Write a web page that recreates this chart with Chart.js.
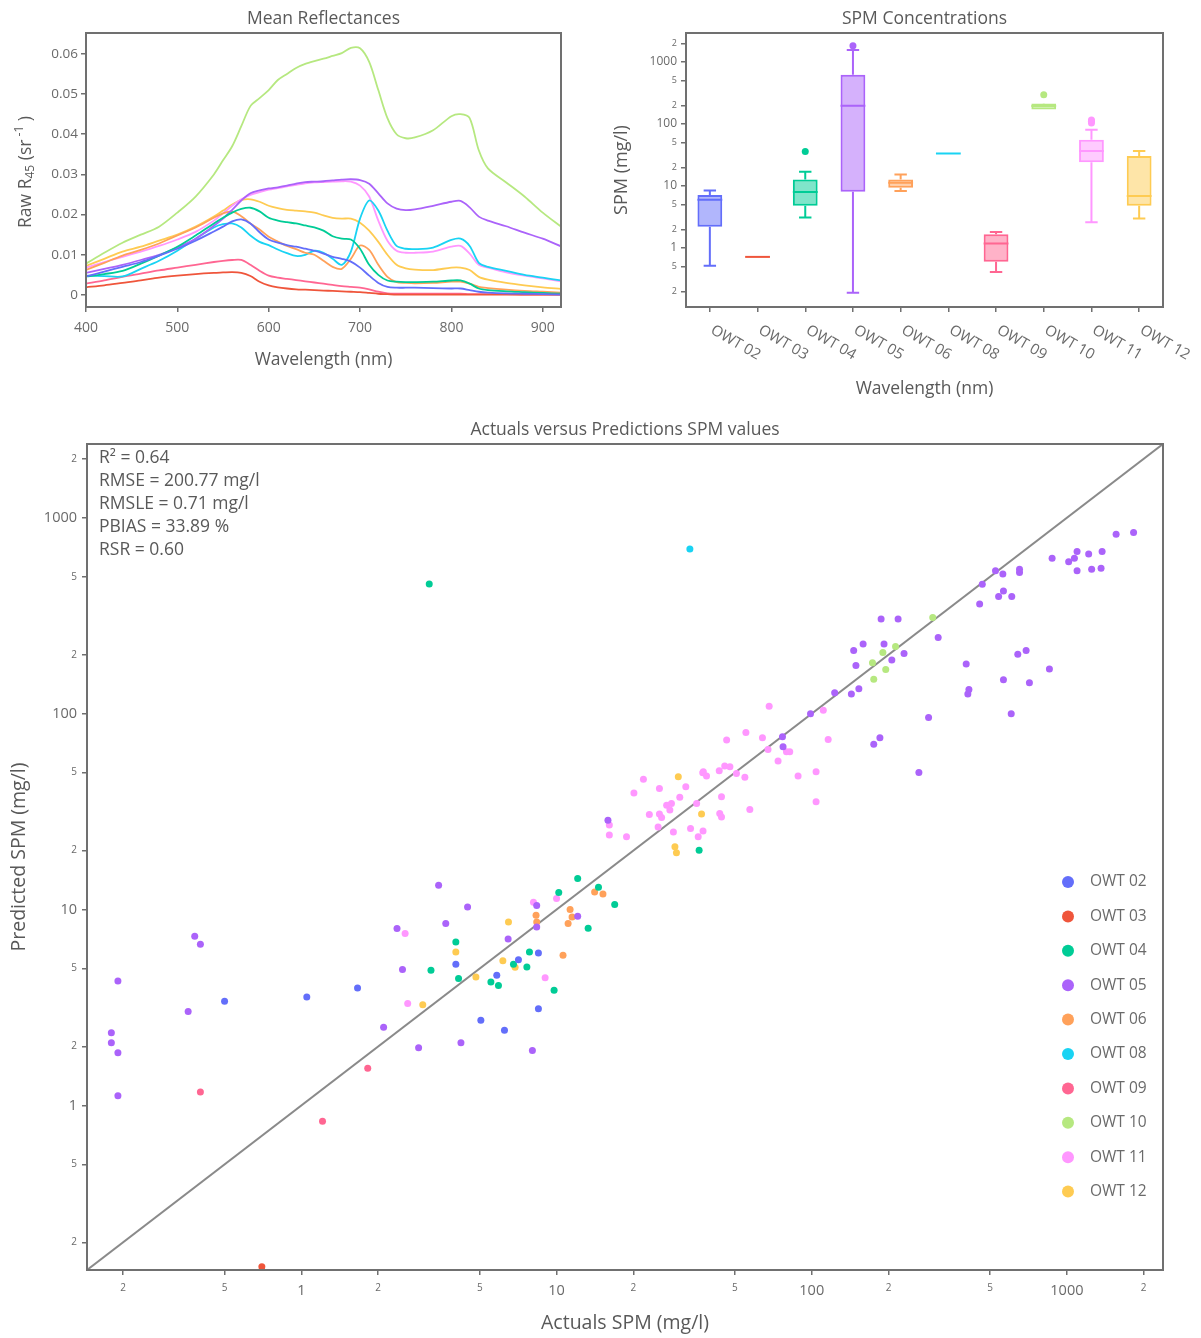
<!DOCTYPE html>
<html>
<head>
<meta charset="utf-8">
<title>OWT reflectance, SPM and prediction accuracy</title>
<script src="https://cdn.jsdelivr.net/npm/chart.js"></script>
<style>
  html, body { margin: 0; padding: 0; background: #fff; }
  #page { position: relative; width: 1201px; height: 1338px; overflow: hidden; }
  canvas { position: absolute; display: block; }
</style>
</head>
<body>
<div id="page">
  <canvas id="refl" width="600" height="410" style="left:0;top:0"></canvas>
  <canvas id="spm" width="601" height="410" style="left:600px;top:0"></canvas>
  <canvas id="pred" width="1201" height="928" style="left:0;top:410px"></canvas>
</div>
<script>
// ---------- shared categories and colours ----------
const owtLabels = ['OWT 02', 'OWT 03', 'OWT 04', 'OWT 05', 'OWT 06', 'OWT 08', 'OWT 09', 'OWT 10', 'OWT 11', 'OWT 12'];
const owtColors = ['#636EFA', '#EF553B', '#00CC96', '#AB63FA', '#FFA15A', '#19D3F3', '#FF6692', '#B6E880', '#FF97FF', '#FECB52'];

// ---------- mean reflectance spectra (sr^-1) ----------
const wavelengths = [400, 420, 440, 460, 480, 500, 520, 540, 550, 560, 570, 580, 590, 600, 610, 620, 630, 640, 650, 660,
                     670, 680, 690, 700, 710, 720, 730, 740, 750, 760, 780, 800, 810, 820, 830, 840, 860, 880, 900, 920];
const reflOwt02 = [0.0046, 0.0058, 0.0070, 0.0082, 0.0098, 0.0115, 0.0135, 0.0158, 0.0170, 0.0183, 0.0188, 0.0178, 0.0156, 0.0138, 0.0130, 0.0124, 0.0120, 0.0115, 0.0110, 0.0103,
                   0.0095, 0.0090, 0.0083, 0.0068, 0.0048, 0.0030, 0.0020, 0.0018, 0.0018, 0.0018, 0.0017, 0.0016, 0.0016, 0.0012, 0.0008, 0.0006, 0.0004, 0.0003, 0.0002, 0.0001];
const reflOwt03 = [0.0019, 0.0024, 0.0030, 0.0036, 0.0043, 0.0048, 0.0052, 0.0055, 0.0056, 0.0057, 0.0055, 0.0047, 0.0033, 0.0024, 0.0019, 0.0016, 0.0014, 0.0013, 0.0012, 0.0011,
                   0.0010, 0.0009, 0.0008, 0.0007, 0.0005, 0.0003, 0.0002, 0.0001, 0.0001, 0.0001, 0.0001, 0.0001, 0.0001, 0.0001, 0.0001, 0.0001, 0.0001, 0.0001, 0.0001, 0.0001];
const reflOwt04 = [0.0046, 0.0052, 0.0060, 0.0078, 0.0098, 0.0120, 0.0148, 0.0178, 0.0192, 0.0205, 0.0214, 0.0217, 0.0208, 0.0192, 0.0185, 0.0181, 0.0178, 0.0173, 0.0168, 0.0160,
                   0.0146, 0.0140, 0.0138, 0.0115, 0.0075, 0.0050, 0.0036, 0.0033, 0.0032, 0.0032, 0.0033, 0.0036, 0.0036, 0.0028, 0.0016, 0.0012, 0.0009, 0.0007, 0.0005, 0.0003];
const reflOwt05 = [0.0055, 0.0065, 0.0075, 0.0087, 0.0100, 0.0118, 0.0140, 0.0172, 0.0190, 0.0212, 0.0235, 0.0253, 0.0260, 0.0265, 0.0268, 0.0272, 0.0277, 0.0281, 0.0282, 0.0283,
                   0.0285, 0.0287, 0.0288, 0.0286, 0.0277, 0.0253, 0.0228, 0.0215, 0.0211, 0.0213, 0.0222, 0.0232, 0.0234, 0.0218, 0.0195, 0.0185, 0.0171, 0.0155, 0.0140, 0.0121];
const reflOwt06 = [0.0062, 0.0080, 0.0098, 0.0112, 0.0128, 0.0148, 0.0168, 0.0192, 0.0203, 0.0208, 0.0196, 0.0178, 0.0163, 0.0145, 0.0133, 0.0122, 0.0114, 0.0105, 0.0100, 0.0085,
                   0.0070, 0.0065, 0.0090, 0.0123, 0.0112, 0.0075, 0.0045, 0.0032, 0.0030, 0.0029, 0.0030, 0.0033, 0.0033, 0.0028, 0.0020, 0.0017, 0.0013, 0.0010, 0.0008, 0.0006];
const reflOwt08 = [0.0048, 0.0047, 0.0046, 0.0065, 0.0085, 0.0110, 0.0140, 0.0168, 0.0176, 0.0178, 0.0168, 0.0148, 0.0132, 0.0124, 0.0113, 0.0104, 0.0097, 0.0100, 0.0110, 0.0105,
                   0.0090, 0.0075, 0.0108, 0.0190, 0.0235, 0.0210, 0.0160, 0.0122, 0.0115, 0.0114, 0.0118, 0.0137, 0.0140, 0.0122, 0.0080, 0.0070, 0.0060, 0.0050, 0.0043, 0.0036];
const reflOwt09 = [0.0028, 0.0036, 0.0045, 0.0053, 0.0061, 0.0068, 0.0075, 0.0082, 0.0085, 0.0087, 0.0087, 0.0075, 0.0060, 0.0048, 0.0043, 0.0040, 0.0037, 0.0034, 0.0031, 0.0028,
                   0.0025, 0.0022, 0.0020, 0.0018, 0.0014, 0.0008, 0.0004, 0.0003, 0.0003, 0.0003, 0.0003, 0.0003, 0.0003, 0.0002, 0.0002, 0.0002, 0.0002, 0.0001, 0.0001, 0.0001];
const reflOwt10 = [0.0078, 0.0105, 0.0130, 0.0150, 0.0170, 0.0205, 0.0245, 0.0300, 0.0335, 0.0370, 0.0420, 0.0470, 0.0490, 0.0510, 0.0535, 0.0550, 0.0565, 0.0575, 0.0582, 0.0588,
                   0.0595, 0.0602, 0.0615, 0.0614, 0.0580, 0.0510, 0.0440, 0.0400, 0.0390, 0.0392, 0.0410, 0.0445, 0.0450, 0.0440, 0.0360, 0.0315, 0.0280, 0.0245, 0.0205, 0.0170];
const reflOwt11 = [0.0068, 0.0082, 0.0095, 0.0108, 0.0122, 0.0138, 0.0157, 0.0185, 0.0203, 0.0222, 0.0238, 0.0249, 0.0256, 0.0262, 0.0266, 0.0270, 0.0274, 0.0278, 0.0280, 0.0281,
                   0.0282, 0.0283, 0.0282, 0.0272, 0.0245, 0.0185, 0.0135, 0.0110, 0.0105, 0.0105, 0.0108, 0.0120, 0.0122, 0.0103, 0.0075, 0.0068, 0.0056, 0.0048, 0.0041, 0.0034];
const reflOwt12 = [0.0072, 0.0090, 0.0108, 0.0120, 0.0135, 0.0150, 0.0170, 0.0195, 0.0210, 0.0225, 0.0236, 0.0238, 0.0232, 0.0222, 0.0216, 0.0212, 0.0210, 0.0208, 0.0205, 0.0198,
                   0.0192, 0.0190, 0.0190, 0.0180, 0.0160, 0.0132, 0.0100, 0.0075, 0.0066, 0.0063, 0.0062, 0.0068, 0.0068, 0.0062, 0.0045, 0.0038, 0.0030, 0.0024, 0.0019, 0.0015];
const reflSeries = [reflOwt02, reflOwt03, reflOwt04, reflOwt05, reflOwt06, reflOwt08, reflOwt09, reflOwt10, reflOwt11, reflOwt12];
const wlTicks = [400, 500, 600, 700, 800, 900];
const reflTicks = [0, 0.01, 0.02, 0.03, 0.04, 0.05, 0.06];

// ---------- SPM box statistics (mg/l) ----------
const boxLow  = [0.52, 0.72, 3.1, 0.19, 8.3, 33.5, 0.41, 171, 2.6, 3.0];
const boxQ1   = [2.2, 0.72, 4.8, 8.1, 9.4, 33.5, 0.60, 172, 24.3, 4.8];
const boxMed  = [6.0, 0.72, 8.0, 198, 11.3, 33.5, 1.18, 195, 36.6, 6.9];
const boxQ3   = [7.2, 0.72, 12.8, 625, 12.8, 33.5, 1.67, 214, 56, 30.4];
const boxHigh = [8.5, 0.72, 17, 1560, 15.4, 33.5, 1.82, 216, 81, 36.6];
const boxOutliers = [[], [], [36], [1825], [], [], [], [296], [104, 111, 116], []];

// ---------- log axis ticks ----------
const logTickValues = [0.2, 0.5, 1, 2, 5, 10, 20, 50, 100, 200, 500, 1000, 2000];
const logTickLabels = ['2', '5', '1', '2', '5', '10', '2', '5', '100', '2', '5', '1000', '2'];
const logMajor = [1, 10, 100, 1000];

// ---------- actual vs predicted SPM, [actual, predicted] in mg/l ----------
const predOwt02 = [[0.50, 3.40], [1.05, 3.58], [1.66, 3.98], [4.03, 5.25], [5.05, 2.72], [5.83, 4.62], [6.25, 2.42], [7.09, 5.55], [8.49, 6.00], [8.49, 3.12]];
const predOwt03 = [[0.70, 0.150]];
const predOwt04 = [[3.17, 459], [4.03, 6.83], [3.22, 4.90], [4.13, 4.44], [5.53, 4.27], [5.92, 4.10], [6.78, 5.25], [7.65, 5.09], [7.83, 6.07], [9.78, 3.87],
                   [10.2, 12.2], [12.1, 14.4], [14.6, 13.0], [13.3, 8.03], [16.9, 10.6], [36.2, 20.1]];
const predOwt05 = [[0.191, 4.32], [0.180, 2.35], [0.180, 2.09], [0.191, 1.86], [0.191, 1.12], [0.382, 7.31], [0.402, 6.65], [0.360, 3.02], [2.10, 2.51], [2.37, 8.0],
                   [2.49, 4.94], [2.88, 1.97], [3.45, 13.3], [3.68, 8.48], [4.22, 2.09], [4.48, 10.3], [6.46, 7.08], [8.04, 1.91], [8.36, 10.5], [8.36, 8.15],
                   [12.1, 9.24], [15.9, 28.6], [77.2, 67.8], [76.8, 76.2], [98.9, 100], [123, 128], [143, 126], [153, 134], [146, 210], [149, 176],
                   [159, 227], [192, 227], [187, 304], [218, 304], [230, 203], [206, 188], [313, 245], [185, 75.3], [175, 69.7], [287, 95.7],
                   [263, 50.1], [403, 179], [413, 133], [409, 126], [455, 363], [466, 458], [525, 537], [561, 517], [564, 423], [540, 396],
                   [608, 396], [652, 546], [652, 525], [564, 149], [605, 100], [642, 201], [692, 210], [713, 144], [854, 169], [875, 622],
                   [1016, 597], [1070, 622], [1096, 672], [1217, 654], [1374, 672], [1096, 537], [1250, 546], [1361, 553], [1559, 824], [1825, 840]];
const predOwt06 = [[8.31, 9.35], [8.36, 8.64], [11.3, 10.0], [11.5, 9.17], [11.1, 8.48], [10.6, 5.84], [14.1, 12.3], [15.2, 12.0]];
const predOwt08 = [[33.3, 693]];
const predOwt09 = [[0.402, 1.17], [1.21, 0.831], [1.82, 1.55]];
const predOwt10 = [[298, 310], [213, 220], [190, 205], [173, 182], [195, 168], [175, 150]];
const predOwt11 = [[2.55, 7.54], [2.61, 3.31], [8.12, 10.9], [10.0, 11.4], [9.02, 4.49], [16.1, 27.0], [16.1, 24.0], [18.8, 23.5], [20.1, 39.3], [21.9, 46.2],
                   [25.3, 41.5], [32.1, 42.3], [23.1, 30.6], [25.3, 30.7], [25.8, 29.5], [27.0, 34.1], [28.2, 34.8], [30.4, 37.4], [27.8, 32.2], [25.0, 26.4],
                   [28.7, 24.9], [33.5, 25.9], [37.5, 25.2], [35.9, 23.5], [35.4, 34.8], [37.4, 49.9], [38.7, 48.0], [43.4, 51.1], [45.6, 54.0], [47.8, 53.5],
                   [50.7, 49.5], [54.7, 47.3], [44.3, 37.6], [43.6, 30.9], [44.3, 29.7], [57.2, 32.4], [46.4, 73.3], [55.2, 80.2], [64.1, 75.3], [68.1, 109],
                   [67.4, 65.7], [73.8, 57.3], [79.6, 63.9], [82.0, 63.9], [88.4, 48.0], [104, 50.5], [104, 35.5], [111, 104], [116, 73.9], [37.6, 50.5]];
const predOwt12 = [[4.03, 6.07], [4.83, 4.52], [6.16, 5.47], [6.48, 8.64], [6.88, 5.07], [2.99, 3.27], [30.0, 47.6], [37.0, 30.7], [29.1, 20.9], [29.5, 19.5]];
const predSeries = [predOwt02, predOwt03, predOwt04, predOwt05, predOwt06, predOwt08, predOwt09, predOwt10, predOwt11, predOwt12];
const predAxisMin = 0.1445;
const predAxisMax = 2380;
const statLines = ['R\u00b2 = 0.64', 'RMSE = 200.77 mg/l', 'RMSLE = 0.71 mg/l', 'PBIAS = 33.89 %', 'RSR = 0.60'];

// ---------- look ----------
const FONT = "'Open Sans', 'Noto Sans', sans-serif";
const TEXT = '#595959';
const TICKTEXT = '#6a6a6a';
const AXISLINE = '#707070';
Chart.defaults.font.family = FONT;
Chart.defaults.color = TEXT;

function alpha(hex, a) {
  const n = parseInt(hex.slice(1), 16);
  return `rgba(${(n >> 16) & 255}, ${(n >> 8) & 255}, ${n & 255}, ${a})`;
}
function fixedTicks(values) {
  return scale => { scale.ticks = values.map(v => ({ value: v })); };
}
const logLabel = v => { const i = logTickValues.indexOf(v); return i < 0 ? '' : logTickLabels[i]; };
const logFont = (big, small) => ctx => ({ family: FONT, size: (ctx.tick && logMajor.includes(ctx.tick.value)) ? big : small });

// frame around the plotting area (mirrored axis lines)
const framePlugin = {
  id: 'frame',
  afterDatasetsDraw(chart) {
    const { ctx, chartArea: a } = chart;
    ctx.save();
    ctx.strokeStyle = AXISLINE;
    ctx.lineWidth = 2;
    ctx.strokeRect(a.left, a.top, a.right - a.left, a.bottom - a.top);
    ctx.restore();
  }
};
// plot heading centred over the plotting area
function headingPlugin(text, y, size) {
  return {
    id: 'heading',
    afterDraw(chart) {
      const { ctx, chartArea: a } = chart;
      ctx.save();
      ctx.font = `${size}px ${FONT}`;
      ctx.fillStyle = TEXT;
      ctx.textAlign = 'center';
      ctx.textBaseline = 'middle';
      ctx.fillText(text, (a.left + a.right) / 2, y);
      ctx.restore();
    }
  };
}
const gridOpts = { drawOnChartArea: false, drawTicks: true, tickLength: 5, color: AXISLINE, lineWidth: 1.5 };

// ---------- chart 1: mean reflectances ----------
const reflYTitle = {
  id: 'reflYTitle',
  afterDraw(chart) {
    const { ctx, chartArea: a } = chart;
    const big = `17.5px ${FONT}`, small = `12px ${FONT}`;
    const parts = [['Raw R', big, 0], ['45', small, 5], [' (sr', big, 0], [' -1', small, -6], [' )', big, 0]];
    ctx.save();
    ctx.translate(26, (a.top + a.bottom) / 2 + 2);
    ctx.rotate(-Math.PI / 2);
    ctx.fillStyle = TEXT;
    ctx.textBaseline = 'middle';
    ctx.textAlign = 'left';
    let total = 0;
    parts.forEach(p => { ctx.font = p[1]; total += ctx.measureText(p[0]).width; });
    let x = -total / 2;
    parts.forEach(p => { ctx.font = p[1]; ctx.fillText(p[0], x, p[2]); x += ctx.measureText(p[0]).width; });
    ctx.restore();
  }
};

new Chart(document.getElementById('refl'), {
  type: 'line',
  data: {
    datasets: reflSeries.map((s, i) => ({
      label: owtLabels[i],
      data: s.map((v, k) => ({ x: wavelengths[k], y: v })),
      borderColor: owtColors[i],
      backgroundColor: owtColors[i],
      borderWidth: 1.8,
      pointRadius: 0,
      tension: 0.3,
      fill: false
    }))
  },
  options: {
    responsive: false,
    animation: false,
    layout: { padding: { left: 8, top: 33, right: 39, bottom: 10 } },
    plugins: { legend: { display: false }, tooltip: { enabled: false } },
    scales: {
      x: {
        type: 'linear', min: 400, max: 920,
        afterBuildTicks: fixedTicks(wlTicks),
        afterFit: s => { s.height = 93; },
        grid: gridOpts, border: { display: false },
        ticks: { padding: 8, color: TICKTEXT, font: { size: 14 }, maxRotation: 0, autoSkip: false, callback: v => String(v) },
        title: { display: true, text: 'Wavelength (nm)', color: TEXT, font: { size: 17.5 }, padding: { top: 0, bottom: 29.5 } }
      },
      y: {
        type: 'linear', min: -0.003, max: 0.0652,
        afterBuildTicks: fixedTicks(reflTicks),
        afterFit: s => { s.width = 78; },
        grid: gridOpts, border: { display: false },
        ticks: { padding: 3, color: TICKTEXT, font: { size: 13.5 }, autoSkip: false, callback: v => (v === 0 ? '0' : v.toFixed(2)) }
      }
    }
  },
  plugins: [framePlugin, headingPlugin('Mean Reflectances', 19, 17.5), reflYTitle]
});

// ---------- chart 2: SPM concentrations per OWT ----------
const boxPlugin = {
  id: 'boxWhiskers',
  afterDatasetsDraw(chart) {
    const { ctx } = chart;
    const xs = chart.scales.x, ys = chart.scales.y;
    const bars = chart.getDatasetMeta(0).data;
    ctx.save();
    ctx.lineWidth = 2;
    owtLabels.forEach((lab, i) => {
      const cx = xs.getPixelForValue(i);
      const hw = bars[i].width / 2;
      const yl = ys.getPixelForValue(boxLow[i]);
      const y1 = ys.getPixelForValue(boxQ1[i]);
      const ym = ys.getPixelForValue(boxMed[i]);
      const y3 = ys.getPixelForValue(boxQ3[i]);
      const yh = ys.getPixelForValue(boxHigh[i]);
      ctx.strokeStyle = owtColors[i];
      ctx.beginPath();
      ctx.moveTo(cx, y1); ctx.lineTo(cx, yl);
      ctx.moveTo(cx, y3); ctx.lineTo(cx, yh);
      if (yl - y1 > 0.5) { ctx.moveTo(cx - hw / 2, yl); ctx.lineTo(cx + hw / 2, yl); }
      if (y3 - yh > 0.5) { ctx.moveTo(cx - hw / 2, yh); ctx.lineTo(cx + hw / 2, yh); }
      ctx.moveTo(cx - hw, ym); ctx.lineTo(cx + hw, ym);
      ctx.stroke();
    });
    ctx.restore();
  }
};
const boxXLabels = {
  id: 'boxXLabels',
  afterDraw(chart) {
    const { ctx, chartArea: a } = chart;
    const xs = chart.scales.x;
    ctx.save();
    ctx.font = `15px ${FONT}`;
    ctx.fillStyle = TICKTEXT;
    ctx.textAlign = 'left';
    ctx.textBaseline = 'middle';
    chart.data.labels.forEach((lab, i) => {
      ctx.save();
      ctx.translate(xs.getPixelForValue(i) + 2, a.bottom + 22);
      ctx.rotate(30 * Math.PI / 180);
      ctx.fillText(lab, 0, 0);
      ctx.restore();
    });
    ctx.restore();
  }
};
const outlierPoints = [];
const outlierColors = [];
boxOutliers.forEach((list, i) => list.forEach(v => { outlierPoints.push({ x: owtLabels[i], y: v }); outlierColors.push(owtColors[i]); }));

new Chart(document.getElementById('spm'), {
  type: 'bar',
  data: {
    labels: owtLabels,
    datasets: [
      {
        label: 'SPM',
        data: owtLabels.map((_, i) => [boxQ1[i], boxQ3[i]]),
        backgroundColor: owtColors.map(c => alpha(c, 0.5)),
        borderColor: owtColors,
        borderWidth: 2,
        borderSkipped: false,
        barPercentage: 0.52,
        categoryPercentage: 1
      },
      {
        type: 'scatter',
        label: 'outliers',
        data: outlierPoints,
        pointBackgroundColor: outlierColors,
        pointBorderColor: outlierColors,
        pointRadius: 3.5,
        pointBorderWidth: 0
      }
    ]
  },
  options: {
    responsive: false,
    animation: false,
    layout: { padding: { left: 4, top: 33, right: 38, bottom: 2 } },
    plugins: { legend: { display: false }, tooltip: { enabled: false } },
    scales: {
      x: {
        type: 'category', offset: true,
        afterFit: s => { s.height = 101; },
        grid: Object.assign({}, gridOpts, { offset: false }), border: { display: false },
        ticks: { display: false },
        title: { display: true, text: 'Wavelength (nm)', color: TEXT, font: { size: 17.5 }, padding: { top: 0, bottom: 8.5 } }
      },
      y: {
        type: 'logarithmic', min: 0.112, max: 2940,
        afterBuildTicks: fixedTicks(logTickValues),
        afterFit: s => { s.width = 82; },
        grid: gridOpts, border: { display: false },
        ticks: { padding: 4, color: TICKTEXT, font: logFont(12, 9), autoSkip: false, callback: logLabel },
        title: { display: true, text: 'SPM (mg/l)', color: TEXT, font: { size: 18 }, padding: { top: 7, bottom: 0 } }
      }
    }
  },
  plugins: [framePlugin, headingPlugin('SPM Concentrations', 19, 17.5), boxPlugin, boxXLabels]
});

// ---------- chart 3: actuals versus predictions ----------
const statsPlugin = {
  id: 'stats',
  afterDraw(chart) {
    const { ctx, chartArea: a } = chart;
    ctx.save();
    ctx.font = `17.5px ${FONT}`;
    ctx.fillStyle = TEXT;
    ctx.textAlign = 'left';
    ctx.textBaseline = 'middle';
    statLines.forEach((t, i) => ctx.fillText(t, a.left + 12, a.top + 14 + i * 23));
    ctx.restore();
  }
};
const legendPlugin = {
  id: 'owtLegend',
  afterDraw(chart) {
    const { ctx, chartArea: a } = chart;
    ctx.save();
    ctx.font = `15.5px ${FONT}`;
    ctx.textAlign = 'left';
    ctx.textBaseline = 'middle';
    chart.data.datasets.filter(d => d.inLegend).forEach((d, i) => {
      const y = a.top + 438 + i * 34.4;
      ctx.beginPath();
      ctx.arc(a.right - 95, y, 6, 0, Math.PI * 2);
      ctx.fillStyle = d.backgroundColor;
      ctx.fill();
      ctx.fillStyle = TICKTEXT;
      ctx.fillText(d.label, a.right - 73, y);
    });
    ctx.restore();
  }
};

const predDatasets = predSeries.map((s, i) => ({
  type: 'scatter',
  label: owtLabels[i],
  inLegend: true,
  data: s.map(p => ({ x: p[0], y: p[1] })),
  backgroundColor: owtColors[i],
  borderColor: owtColors[i],
  pointRadius: 3.5,
  pointBorderWidth: 0,
  order: 0
}));
predDatasets.push({
  type: 'line',
  label: '1:1',
  data: [{ x: predAxisMin, y: predAxisMin }, { x: predAxisMax, y: predAxisMax }],
  borderColor: '#8a8a8a',
  borderWidth: 2,
  pointRadius: 0,
  fill: false,
  order: 1
});

new Chart(document.getElementById('pred'), {
  type: 'scatter',
  data: { datasets: predDatasets },
  options: {
    responsive: false,
    animation: false,
    layout: { padding: { left: 2, top: 34, right: 38, bottom: 0 } },
    plugins: { legend: { display: false }, tooltip: { enabled: false } },
    scales: {
      x: {
        type: 'logarithmic', min: predAxisMin, max: predAxisMax,
        afterBuildTicks: fixedTicks(logTickValues),
        afterFit: s => { s.height = 68; },
        grid: gridOpts, border: { display: false },
        ticks: { padding: 7, color: TICKTEXT, font: logFont(14.5, 10), maxRotation: 0, autoSkip: false, callback: logLabel },
        title: { display: true, text: 'Actuals SPM (mg/l)', color: TEXT, font: { size: 19.5 }, padding: { top: 0, bottom: 3.3 } }
      },
      y: {
        type: 'logarithmic', min: predAxisMin, max: predAxisMax,
        afterBuildTicks: fixedTicks(logTickValues),
        afterFit: s => { s.width = 85; },
        grid: gridOpts, border: { display: false },
        ticks: { padding: 5, color: TICKTEXT, font: logFont(14.5, 10), autoSkip: false, callback: logLabel },
        title: { display: true, text: 'Predicted SPM (mg/l)', color: TEXT, font: { size: 19.5 }, padding: { top: 5.3, bottom: 0 } }
      }
    }
  },
  plugins: [framePlugin, headingPlugin('Actuals versus Predictions SPM values', 20, 17.5), statsPlugin, legendPlugin]
});
</script>
</body>
</html>
